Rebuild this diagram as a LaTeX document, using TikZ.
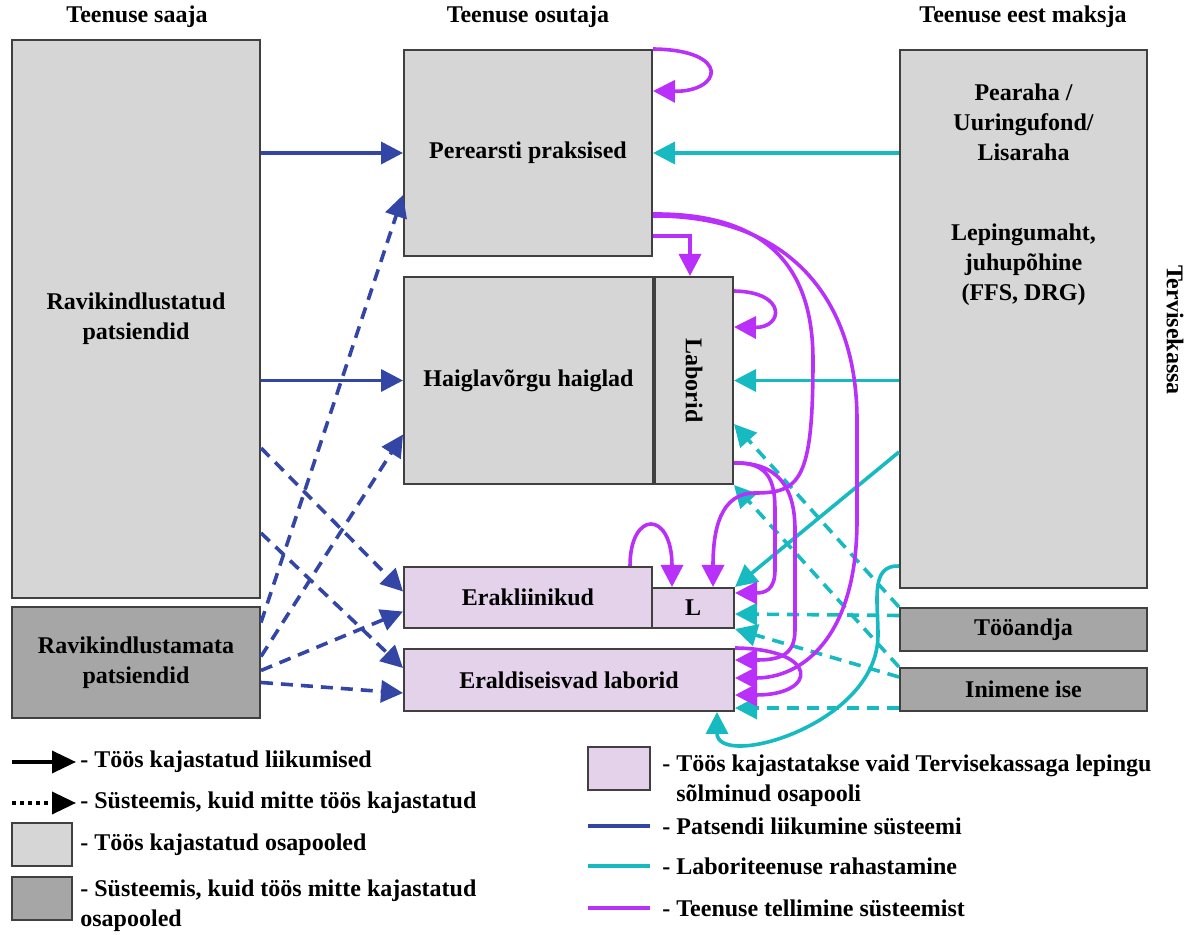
\documentclass[tikz,border=0pt]{standalone}
\usepackage{fontspec}
\setmainfont{Liberation Serif}
\usepackage{graphicx}
\usetikzlibrary{arrows.meta}

\definecolor{patsient}{RGB}{51,70,166}
\definecolor{rahastus}{RGB}{23,186,192}
\definecolor{tellimus}{RGB}{185,48,250}
\definecolor{boxlight}{RGB}{214,214,214}
\definecolor{boxdark}{RGB}{166,166,166}
\definecolor{boxlilac}{RGB}{228,210,234}

\begin{document}
\begin{tikzpicture}[x=0.5pt,y=-0.5pt]
\tikzset{block/.style={rectangle,draw=black!75,line width=1pt,inner sep=0pt,align=center,font=\bfseries\fontsize{12}{15}\selectfont},
  light/.style={block,fill=boxlight},
  darkbox/.style={block,fill=boxdark},
  lilac/.style={block,fill=boxlilac},
  txt/.style={font=\bfseries\fontsize{12}{15}\selectfont,align=left,inner sep=2pt},
  tip/.style={-{Triangle[length=11pt,width=11pt]}},
  move/.style={patsient,line width=1.8pt,tip},
  fund/.style={rahastus,line width=1.8pt,tip},
  order/.style={tellimus,line width=1.8pt,tip},
  dashline/.style={dash pattern=on 6pt off 4pt}}
\useasboundingbox (0,0) rectangle (1190,935);

  \node [txt] (saaja) at (137,17) {Teenuse saaja};
  \node [txt] (osutaja) at (528,17) {Teenuse osutaja};
  \node [txt] (maksjatitle) at (1023,17) {Teenuse eest maksja};

  \node [light, minimum width=124pt, minimum height=279pt] (ravik) at (136,319) {Ravikindlustatud\\patsiendid};
  \node [darkbox, minimum width=124pt, minimum height=55.5pt] (ravikm) at (136,662.5) {Ravikindlustamata\\patsiendid};

  \node [light, minimum width=124pt, minimum height=103pt] (pere) at (528,153) {Perearsti praksised};
  \node [light, minimum width=124.5pt, minimum height=103.5pt] (haigla) at (528.5,380.5) {Haiglavõrgu haiglad};
  \node [light, minimum width=39pt, minimum height=103.5pt] (labor) at (694,380.5) {\rotatebox{-90}{Laborid}};
  \node [lilac, minimum width=124pt, minimum height=30.5pt] (erakl) at (528,597.5) {Erakliinikud};
  \node [lilac, minimum width=41pt, minimum height=20pt] (lbox) at (693,608) {L};
  \node [lilac, minimum width=165pt, minimum height=31pt] (eraldi) at (569,680) {Eraldiseisvad laborid};

  \node [light, minimum width=123.5pt, minimum height=269pt] (maksja) at (1023.5,319) {};
  \node [txt, align=center] (maksjatxt) at (1023.5,195) {Pearaha /\\Uuringufond/\\Lisaraha\\[25pt]Lepingumaht,\\juhupõhine\\(FFS, DRG)};
  \node [darkbox, minimum width=123.5pt, minimum height=21.5pt] (tooandja) at (1023.5,629.5) {Tööandja};
  \node [darkbox, minimum width=123.5pt, minimum height=21.5pt] (inimene) at (1023.5,689.5) {Inimene ise};
  \node [txt, rotate=-90] (tervise) at (1175,330) {Tervisekassa};

% patsiendid
\draw [move] (ravik.east |- pere.west) -- (pere.west);
\draw [move] (ravik.east |- haigla.west) -- (haigla.west);
\draw [move,dashline] ([yshift=-64.5pt]ravik.east) -- ([yshift=3pt]erakl.west);
\draw [move,dashline] ([yshift=-107pt]ravik.east) -- ([yshift=6pt]eraldi.west);
\draw [move,dashline] ([yshift=20pt]ravikm.east) -- ([yshift=-21pt]pere.west);
\draw [move,dashline] ([yshift=3pt]ravikm.east) -- ([yshift=-27pt]haigla.west);
\draw [move,dashline] ([yshift=-4pt]ravikm.east) -- ([yshift=-7pt]erakl.west);
\draw [move,dashline] ([yshift=-10pt]ravikm.east) -- ([yshift=-6.5pt]eraldi.west);

% rahastamine
\draw [fund] (maksja.west |- pere.east) -- (pere.east);
\draw [fund] (maksja.west |- labor.east) -- (labor.east);
\draw [fund] ([yshift=-66.5pt]maksja.west) -- (lbox.north east);
\draw [fund] ([yshift=11.5pt]maksja.south west) .. controls (870,565) and (878,600) .. (878,635) .. controls (878,725) and (717,770) .. ([xshift=74pt]eraldi.south);
\draw [fund,dashline] (tooandja.north west) -- ([yshift=30.5pt]labor.south east);
\draw [fund,dashline] (inimene.north west) -- (labor.south east);
\draw [fund,dashline] ([yshift=7pt]tooandja.west) -- ([yshift=-3pt]lbox.east);
\draw [fund,dashline] ([yshift=6.25pt]inimene.west) -- (lbox.south east);
\draw [fund,dashline] ([yshift=-9.25pt]inimene.west) -- ([yshift=-14pt]eraldi.east);

% tellimine
\draw [order] (pere.north east) .. controls (732,50) and (722,92) .. ([yshift=-21pt]pere.north east);
\draw [order] ([yshift=10.5pt]pere.south east) -| ([xshift=-2pt]labor.north);
\draw [order] ([yshift=-7.5pt]labor.north east) .. controls (788,292) and (783,328) .. ([yshift=-25.5pt]labor.north east);
\draw [order] ([yshift=21.5pt]pere.south east) .. controls (770,213) and (813,270) .. (813,360) .. controls (813,480) and (800,493) .. (755,493) .. controls (720,493) and (713,530) .. ([xshift=10pt]lbox.north);
\draw [order] ([yshift=20.5pt]pere.south east) .. controls (790,215) and (857,300) .. (857,420) -- (857,520) .. controls (857,640) and (800,678) .. ([yshift=1pt]eraldi.east);
\draw [order] ([yshift=11pt]labor.south east) .. controls (768,462) and (775,480) .. (775,510) -- (775,570) .. controls (775,590) and (765,593) .. ([yshift=7.5pt]lbox.east);
\draw [order] ([yshift=11pt]labor.south east) .. controls (780,462) and (795,490) .. (795,530) -- (795,630) .. controls (795,655) and (780,660) .. ([yshift=10pt]eraldi.east);
\draw [order] (eraldi.north east) .. controls (820,649) and (818,695) .. ([yshift=-7.5pt]eraldi.east);
\draw [order] ([xshift=51pt]erakl.north) .. controls (630,510) and (672,510) .. ([xshift=-10.5pt]lbox.north);

% legend
\coordinate (lgsolid) at (12,762);
\node [txt, anchor=west] (lgsolidtxt) at (76,762) {- Töös kajastatud liikumised};
\draw [line width=1.8pt, -{Triangle[length=12pt,width=11pt]}] (lgsolid) -- (lgsolidtxt.west);
\coordinate (lgdot) at (12,803);
\node [txt, anchor=west] (lgdottxt) at (76,803) {- Süsteemis, kuid mitte töös kajastatud};
\draw [line width=1.8pt, dash pattern=on 2pt off 2pt, -{Triangle[length=12pt,width=11pt]}] (lgdot) -- (lgdottxt.west);
\node [light, minimum width=30pt, minimum height=21.5pt] (lgbox1) at (42,844.5) {};
\node [txt, anchor=west] (lgbox1txt) at (76,845) {- Töös kajastatud osapooled};
\node [darkbox, minimum width=30pt, minimum height=21.5pt] (lgbox2) at (42,898.5) {};
\node [txt, anchor=west] (lgbox2txt) at (76,906) {- Süsteemis, kuid töös mitte kajastatud\\osapooled};

\node [lilac, minimum width=31pt, minimum height=21.5pt] (lgbox3) at (619,768.5) {};
\node [txt, anchor=west] (lgbox3txt) at (658,781) {- Töös kajastatakse vaid Tervisekassaga lepingu\\\phantom{- }sõlminud osapooli};
\coordinate (lgpat1) at (588,826); \coordinate (lgpat2) at (650,826);
\node [txt, anchor=west] (lgpattxt) at (658,826) {- Patsendi liikumine süsteemi};
\draw [patsient, line width=1.8pt] (lgpat1) -- (lgpat2);
\coordinate (lgfund1) at (588,866); \coordinate (lgfund2) at (650,866);
\node [txt, anchor=west] (lgfundtxt) at (658,866) {- Laboriteenuse rahastamine};
\draw [rahastus, line width=1.8pt] (lgfund1) -- (lgfund2);
\coordinate (lgord1) at (588,908); \coordinate (lgord2) at (650,908);
\node [txt, anchor=west] (lgordtxt) at (658,908) {- Teenuse tellimine süsteemist};
\draw [tellimus, line width=1.8pt] (lgord1) -- (lgord2);

\end{tikzpicture}
\end{document}
